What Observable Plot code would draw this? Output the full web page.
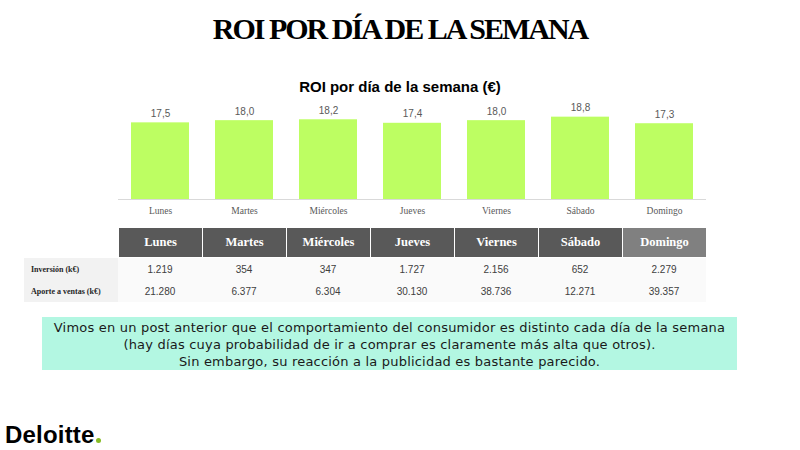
<!DOCTYPE html>
<html><head><meta charset="utf-8">
<script src="https://cdn.jsdelivr.net/npm/d3@7"></script>
<script src="https://cdn.jsdelivr.net/npm/@observablehq/plot@0.6"></script>
<style>
html,body{margin:0;padding:0;background:#fff;}
body{width:800px;height:450px;position:relative;overflow:hidden;}
#chart{position:absolute;left:0;top:0;width:800px;height:230px;}
#title{position:absolute;left:0;top:14px;width:800px;text-align:center;font:bold 30px/30px "Liberation Serif",serif;letter-spacing:-2px;color:#000;}
#subtitle{position:absolute;left:0;top:78px;width:800px;text-align:center;font:bold 15px/18px "Liberation Sans",sans-serif;color:#000;}
#tbl{position:absolute;left:24px;top:228px;border-collapse:separate;border-spacing:0;table-layout:fixed;}
#tbl th{background:#595959;color:#fff;font:bold 12.5px "Liberation Serif",serif;height:29px;padding:0;border-left:1px solid #fff;border-bottom:1px solid #fff;text-align:center;}
#tbl th.last{background:#808080;}
#tbl th.empty{background:#fff;border:none;}
#tbl td{height:22px;padding:0;text-align:center;font:10px "Liberation Sans",sans-serif;color:#404040;background:#fafafa;}
#tbl td.lab{text-align:left;padding-left:7px;font:bold 8px "Liberation Serif",serif;color:#262626;background:#f2f2f2;}
#note{position:absolute;left:42px;top:317px;width:695px;height:53px;background:#b3f7e2;text-align:center;font:13px/17px "DejaVu Sans",sans-serif;letter-spacing:0.2px;color:#1a1a1a;padding-top:2px;box-sizing:border-box;}
#logo{position:absolute;left:5px;top:424px;font:bold 24px/22px "Liberation Sans",sans-serif;color:#000;letter-spacing:0.2px;}
#logo span{display:inline-block;width:5px;height:5px;border-radius:50%;background:#86BC25;margin-left:1px;}
</style></head><body>
<div id="chart"></div>
<div id="title">ROI POR DÍA DE LA SEMANA</div>
<div id="subtitle">ROI por día de la semana (€)</div>
<table id="tbl"></table>
<div id="note">Vimos en un post anterior que el comportamiento del consumidor es distinto cada día de la semana<br>(hay días cuya probabilidad de ir a comprar es claramente más alta que otros).<br>Sin embargo, su reacción a la publicidad es bastante parecido.</div>
<div id="logo">Deloitte<span></span></div>
<script>
const days = ["Lunes","Martes","Miércoles","Jueves","Viernes","Sábado","Domingo"];
const roi = [17.5, 18.0, 18.2, 17.4, 18.0, 18.8, 17.3];
const inversion = [1219, 354, 347, 1727, 2156, 652, 2279];
const aporte = [21280, 6377, 6304, 30130, 38736, 12271, 39357];
const rowLabels = ["Inversión (k€)", "Aporte a ventas (k€)"];

const loc = d3.formatLocale({decimal: ",", thousands: ".", grouping: [3], currency: ["", "€"]});
const f1 = loc.format(".1f");
const fInt = loc.format(",d");

const data = days.map((d, i) => ({day: d, roi: roi[i]}));

const chart = Plot.plot({
  width: 800, height: 230,
  marginLeft: 118, marginRight: 94, marginTop: 0, marginBottom: 31,
  style: {background: "transparent"},
  x: {domain: days, range: [118, 706], paddingInner: 0.31, paddingOuter: 0.155, axis: null},
  y: {domain: [0, 20], range: [199, 111.4], axis: null},
  marks: [
    Plot.barY(data, {x: "day", y: "roi", fill: "#bdfe62"}),
    Plot.ruleY([0], {stroke: "#d9d9d9"}),
    Plot.text(data, {x: "day", y: "roi", text: d => f1(d.roi), dy: -9, fontSize: 10, fill: "#595959", fontFamily: "Liberation Sans"}),
    Plot.axisX({tickSize: 0, tickPadding: 8, fontSize: 9.5, fill: "#595959", fontFamily: "Liberation Serif", label: null})
  ]
});
document.getElementById("chart").appendChild(chart);

// table
const tbl = document.getElementById("tbl");
const colg = document.createElement("colgroup");
const c0 = document.createElement("col"); c0.style.width = "94px"; colg.appendChild(c0);
days.forEach(() => { const c = document.createElement("col"); c.style.width = "84px"; colg.appendChild(c); });
tbl.appendChild(colg);
const hr = document.createElement("tr");
const e = document.createElement("th"); e.className = "empty"; hr.appendChild(e);
days.forEach((d, i) => {
  const th = document.createElement("th");
  th.textContent = d;
  if (i === days.length - 1) th.className = "last";
  hr.appendChild(th);
});
tbl.appendChild(hr);
[inversion, aporte].forEach((row, r) => {
  const tr = document.createElement("tr");
  const l = document.createElement("td"); l.className = "lab"; l.textContent = rowLabels[r]; tr.appendChild(l);
  row.forEach(v => { const td = document.createElement("td"); td.textContent = fInt(v); tr.appendChild(td); });
  tbl.appendChild(tr);
});
</script>
</body></html>
